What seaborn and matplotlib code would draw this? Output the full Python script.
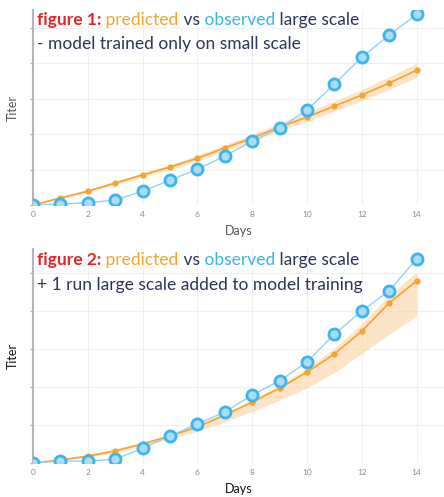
import numpy as np
import pandas as pd
import matplotlib
matplotlib.use("Agg")
import matplotlib.pyplot as plt
import seaborn as sns

# data
days = list(range(15))

obs_1 = [0, 0.03, 0.06, 0.14, 0.39, 0.70, 1.01, 1.38, 1.80, 2.17, 2.68, 3.41, 4.17, 4.79, 5.38]
pred_1 = [0, 0.20, 0.39, 0.62, 0.85, 1.07, 1.32, 1.61, 1.89, 2.20, 2.48, 2.79, 3.10, 3.44, 3.80]
pred_1_hi = [0.02, 0.23, 0.43, 0.67, 0.91, 1.14, 1.40, 1.70, 1.99, 2.31, 2.61, 2.93, 3.26, 3.62, 4.00]
pred_1_lo = [0, 0.17, 0.35, 0.57, 0.79, 1.00, 1.24, 1.52, 1.79, 2.09, 2.35, 2.65, 2.94, 3.26, 3.60]

obs_2 = [0, 0.05, 0.05, 0.10, 0.39, 0.71, 1.03, 1.34, 1.79, 2.16, 2.66, 3.39, 4.00, 4.53, 5.37]
pred_2 = [0, 0.08, 0.18, 0.32, 0.50, 0.71, 0.95, 1.26, 1.60, 1.97, 2.39, 2.87, 3.47, 4.21, 4.79]
pred_2_hi = [0.02, 0.11, 0.22, 0.37, 0.55, 0.76, 1.01, 1.32, 1.67, 2.05, 2.50, 3.02, 3.66, 4.42, 5.02]
pred_2_lo = [0, 0.06, 0.15, 0.27, 0.44, 0.63, 0.84, 1.08, 1.36, 1.65, 1.98, 2.38, 2.88, 3.38, 3.87]

titles = [("figure 1:", "- model trained only on small scale"),
          ("figure 2:", "+ 1 run large scale added to model training")]

RED = "#e3262b"
ORANGE = "#f5a430"
BLUE = "#3cb4ec"
LIGHTBLUE = "#a9dcf6"
NAVY = "#2b3558"

sns.set_theme(style="white")
plt.rcParams['font.family'] = ['Lato', 'DejaVu Sans']

fig = plt.figure(figsize=(4.44, 4.97), dpi=100)
ax1 = fig.add_axes([33 / 444, 1 - 205 / 497, 1 - 33 / 444, 195 / 497])
ax2 = fig.add_axes([33 / 444, 1 - 463 / 497, 1 - 33 / 444, 214 / 497])

panels = [
    (ax1, obs_1, pred_1, pred_1_lo, pred_1_hi, 5.5, titles[0], "#555555"),
    (ax2, obs_2, pred_2, pred_2_lo, pred_2_hi, 5.63, titles[1], "#111111"),
]

for ax, obs, pred, lo, hi, ytop, (tag, line2), lab_col in panels:
    df = pd.DataFrame({"Days": days, "observed": obs, "predicted": pred})

    ax.fill_between(days, lo, hi, color="#fdd3a0", alpha=0.6, lw=0, zorder=1)
    sns.lineplot(data=df, x="Days", y="predicted", ax=ax, color=ORANGE, lw=1.2,
                 marker="o", markersize=4.5, markeredgewidth=0,
                 markerfacecolor=ORANGE, zorder=3)
    sns.lineplot(data=df, x="Days", y="observed", ax=ax, color="#8fd4f4", lw=1.0,
                 marker="o", markersize=8, markeredgewidth=2,
                 markeredgecolor=BLUE, markerfacecolor=LIGHTBLUE, zorder=4)

    ax.set_xlim(0, 15)
    ax.set_ylim(0, ytop)
    ax.set_xticks(range(0, 15, 2))
    ax.set_yticks(range(0, 6))
    ax.set_yticklabels([])
    ax.grid(True, color="#f0f0f0", lw=0.8)
    ax.set_axisbelow(True)
    for s in ["top", "right", "bottom"]:
        ax.spines[s].set_visible(False)
    ax.spines["left"].set_color("#b5b5b5")
    ax.spines["left"].set_linewidth(1.5)
    ax.tick_params(axis="x", length=0, labelsize=6, labelcolor="#8a8a8a", pad=4.5)
    ax.tick_params(axis="y", left=True, length=2.5, width=1, color="#b5b5b5")
    ax.set_xlabel("Days", fontsize=9, color=lab_col, labelpad=5)
    ax.set_ylabel("Titer", fontsize=9, color=lab_col, labelpad=4)

    # coloured title written inside the plot
    t = ax.text(0.01, 0.925, tag, transform=ax.transAxes, fontsize=12.5,
                fontweight="bold", color=RED, va="baseline", zorder=6)
    parts = [(" predicted", ORANGE), (" vs", NAVY), (" observed", BLUE), (" large scale", NAVY)]
    prev = t
    for txt, col in parts:
        prev = ax.annotate(txt, xy=(1, 0), xycoords=prev, va="bottom", ha="left",
                           fontsize=12.5, color=col, zorder=6)
    ax.annotate(line2, xy=(0, -0.55), xycoords=t, va="top", ha="left",
                fontsize=12.5, color=NAVY, zorder=6)

fig.savefig("out.png", dpi=100)
